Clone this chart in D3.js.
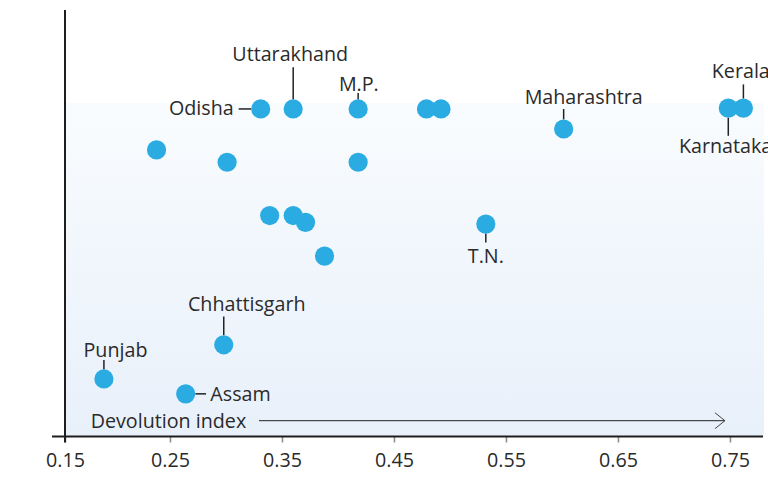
<!DOCTYPE html>
<html>
<head>
<meta charset="utf-8">
<script src="https://cdn.jsdelivr.net/npm/d3@7"></script>
<style>
  html, body { margin: 0; padding: 0; background: #fff; }
  svg { display: block; font-family: "Open Sans", "Noto Sans", sans-serif; }
</style>
</head>
<body>
<svg id="chart" width="768" height="477"></svg>
<script>
// ---- Data ----
const stateNames = ["Punjab", "Assam", "", "Chhattisgarh", "", "Odisha", "", "Uttarakhand", "", "", "", "M.P.", "", "", "", "T.N.", "Maharashtra", "Karnataka", "Kerala"];
const devolutionIndex = [0.191, 0.264, 0.238, 0.298, 0.301, 0.331, 0.339, 0.360, 0.360, 0.371, 0.388, 0.418, 0.418, 0.479, 0.492, 0.532, 0.6015, 0.7485, 0.762];
const yValues = [13.5, 10.0, 67.2, 21.5, 64.3, 76.8, 51.8, 76.8, 51.8, 50.2, 42.3, 76.8, 64.3, 76.8, 76.8, 49.8, 72.1, 77.0, 77.0];
const xTickValues = [0.15, 0.25, 0.35, 0.45, 0.55, 0.65, 0.75];
const xTickLabels = ["0.15", "0.25", "0.35", "0.45", "0.55", "0.65", "0.75"];
const axisTitle = "Devolution index";
const arrowRange = [0.3295, 0.7455];
const bandTop = 78.2;

// ---- Label layout (offsets in px from the point) ----
const labelLayout = {
  "Odisha":       { dx: -27,  dy: 6.5,  anchor: "end",    leader: [[-22, 0], [-9.5, 0]] },
  "Uttarakhand":  { dx: -3,   dy: -47.7, anchor: "middle", leader: [[0, -41.7], [0, -9.5]] },
  "M.P.":         { dx: 0.7,  dy: -18,  anchor: "middle", leader: [[0, -16], [0, -9.5]] },
  "Maharashtra":  { dx: -39,  dy: -25,  anchor: "start",  leader: [[0, -20], [0, -9.5]] },
  "Kerala":       { dx: -31.6, dy: -30.3, anchor: "start", leader: [[0, -23.7], [0, -9.5]] },
  "Karnataka":    { dx: -49.3, dy: 44.7, anchor: "start",  leader: [[0, 9.5], [0, 27.7]] },
  "T.N.":         { dx: 0,    dy: 39,   anchor: "middle", leader: [[0, 9.5], [0, 18.5]] },
  "Chhattisgarh": { dx: 23,   dy: -34.3, anchor: "middle", leader: [[0, -28.3], [0, -9.5]] },
  "Punjab":       { dx: -20.4, dy: -21.6, anchor: "start", leader: [[0, -19], [0, -9.5]] },
  "Assam":        { dx: 24.7, dy: 6.7,  anchor: "start",  leader: [[9.7, 0], [20.4, 0]] }
};

const points = stateNames.map((n, i) => ({ name: n, x: devolutionIndex[i], y: yValues[i] }));

const svg = d3.select("#chart");
const x = d3.scaleLinear().domain([0.15625, 0.7795]).range([65, 763]).clamp(true);
const y = d3.scaleLinear().domain([0, 100]).range([436.5, 10]);
const FS = "19.7px";

// gradient band
const defs = svg.append("defs");
const grad = defs.append("linearGradient").attr("id", "bg").attr("x1", 0).attr("y1", 0).attr("x2", 0).attr("y2", 1);
grad.append("stop").attr("offset", "0%").attr("stop-color", "#f9fcfe");
grad.append("stop").attr("offset", "100%").attr("stop-color", "#e8f0fa");

svg.append("rect")
  .attr("x", x.range()[0]).attr("y", y(bandTop))
  .attr("width", x.range()[1] - x.range()[0] + 1)
  .attr("height", y(0) - y(bandTop))
  .attr("fill", "url(#bg)");

// x axis ticks
const xAxis = d3.axisBottom(x).tickValues(xTickValues).tickSize(6).tickPadding(11)
  .tickFormat((d, i) => xTickLabels[i]);
const gx = svg.append("g").attr("transform", `translate(0,${y(0)})`).call(xAxis);
gx.select(".domain").remove();
gx.selectAll(".tick line").attr("stroke", "#8a8a8a").attr("stroke-width", 1.5);
gx.selectAll(".tick text").attr("fill", "#2a2a2a").style("font-size", FS)
  .style("font-family", "'Open Sans', sans-serif");

// axis lines
svg.append("line").attr("x1", 52).attr("x2", x.range()[1]).attr("y1", y(0)).attr("y2", y(0))
  .attr("stroke", "#1e1e1e").attr("stroke-width", 2);
svg.append("line").attr("x1", x.range()[0]).attr("x2", x.range()[0]).attr("y1", y(100)).attr("y2", y(0) + 6)
  .attr("stroke", "#1e1e1e").attr("stroke-width", 2);

// axis title + arrow
const arrowY = y(0) - 15.8;
svg.append("text").attr("x", 90.7).attr("y", y(0) - 8.5).text(axisTitle)
  .attr("fill", "#2a2a2a").style("font-size", FS);
svg.append("line").attr("x1", x(arrowRange[0])).attr("x2", x(arrowRange[1]))
  .attr("y1", arrowY).attr("y2", arrowY).attr("stroke", "#222").attr("stroke-width", 1);
svg.append("path")
  .attr("d", `M${x(arrowRange[1]) - 10},${arrowY - 8}L${x(arrowRange[1])},${arrowY}L${x(arrowRange[1]) - 10},${arrowY + 8}`)
  .attr("fill", "none").attr("stroke", "#444").attr("stroke-width", 1);

// leaders
const labeled = points.filter(p => labelLayout[p.name]);
svg.append("g").selectAll("line").data(labeled).join("line")
  .attr("x1", d => x(d.x) + labelLayout[d.name].leader[0][0])
  .attr("y1", d => y(d.y) + labelLayout[d.name].leader[0][1])
  .attr("x2", d => x(d.x) + labelLayout[d.name].leader[1][0])
  .attr("y2", d => y(d.y) + labelLayout[d.name].leader[1][1])
  .attr("stroke", "#222").attr("stroke-width", 1.5);

// points
svg.append("g").selectAll("circle").data(points).join("circle")
  .attr("cx", d => x(d.x)).attr("cy", d => y(d.y)).attr("r", 9.6)
  .attr("fill", "#2aace2");

// labels
svg.append("g").selectAll("text").data(labeled).join("text")
  .attr("x", d => x(d.x) + labelLayout[d.name].dx)
  .attr("y", d => y(d.y) + labelLayout[d.name].dy)
  .attr("text-anchor", d => labelLayout[d.name].anchor)
  .attr("fill", "#2a2a2a").style("font-size", FS)
  .text(d => d.name);
</script>
</body>
</html>
